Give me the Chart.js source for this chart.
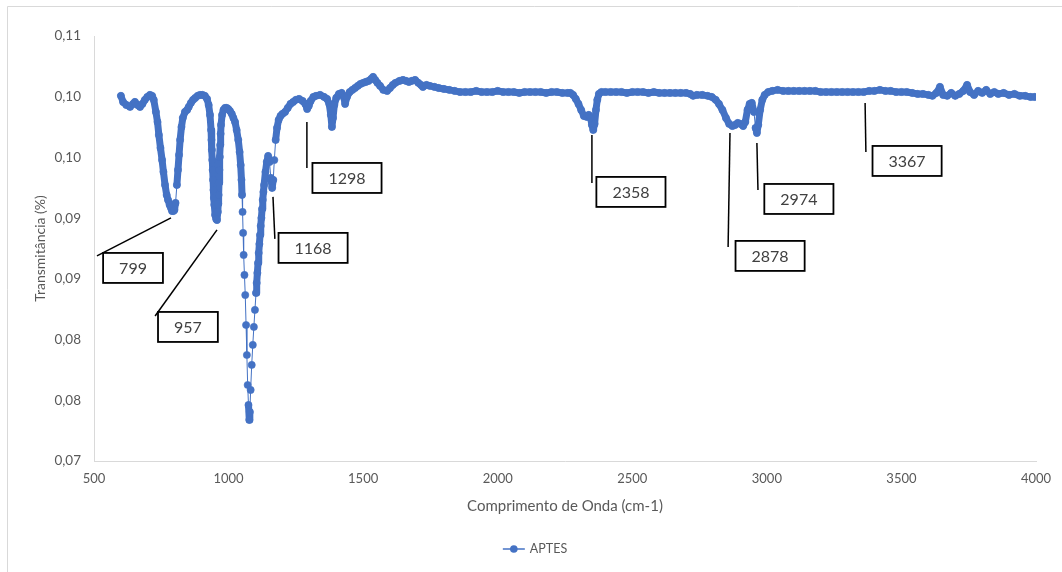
<!DOCTYPE html>
<html>
<head>
<meta charset="utf-8">
<script src="https://cdn.jsdelivr.net/npm/chart.js@4.4.1/dist/chart.umd.min.js"></script>
<style>
  body { margin: 0; background: #fff; }
  #wrap { position: relative; width: 1062px; height: 572px; }
</style>
</head>
<body>
<div id="wrap"><canvas id="chart" width="1062" height="572"></canvas></div>
<script>
// Wavenumber (cm-1)
const wavenumber = [
  600, 608, 620, 634, 645, 652, 662, 671, 680, 689, 698, 708, 716, 722, 730, 736, 741, 747, 753, 758,
  764, 770, 775, 781, 786, 790, 795, 799, 803, 808, 812, 816, 820, 825, 830, 838, 846, 852, 860, 868,
  876, 885, 894, 903, 912, 920, 926, 931, 935, 936.5, 938, 939.5, 941, 942.5, 944, 945.5, 947, 950, 954, 957, 960, 961.5, 963, 964.5, 966, 967.5, 969, 970.5,
  972, 976, 981, 987, 993, 999, 1005, 1012, 1018, 1024, 1030, 1036, 1041, 1045, 1048, 1050, 1052, 1054, 1056, 1059,
  1062, 1065, 1068, 1071, 1074, 1077, 1079, 1082, 1086, 1090, 1094, 1098, 1102, 1104.5, 1107, 1109.5, 1112, 1114.5, 1117, 1119.5, 1122, 1124.5, 1127, 1129.5, 1132, 1137,
  1142, 1147, 1152, 1157, 1162, 1166, 1170, 1175, 1180, 1186, 1193, 1200, 1210, 1220, 1230, 1240, 1250, 1262, 1275, 1285,
  1292, 1298, 1305, 1315, 1325, 1340, 1355, 1366, 1374, 1380, 1384, 1388, 1393, 1400, 1410, 1420, 1428, 1433, 1440, 1450,
  1460, 1470, 1480, 1490, 1500, 1510, 1520, 1530, 1537, 1545, 1553, 1563, 1575, 1589, 1600, 1610, 1620, 1635, 1648, 1660,
  1670, 1680, 1693, 1705, 1715, 1722, 1735, 1748, 1765, 1780, 1800, 1820, 1840, 1860, 1880, 1900, 1920, 1940, 1960, 1980,
  2000, 2020, 2040, 2060, 2080, 2100, 2120, 2140, 2160, 2180, 2200, 2220, 2240, 2260, 2270, 2280, 2290, 2300, 2310, 2320,
  2330, 2338, 2345, 2350, 2355, 2360, 2365, 2370, 2376, 2385, 2400, 2420, 2440, 2460, 2480, 2500, 2520, 2540, 2560, 2580,
  2600, 2620, 2640, 2660, 2680, 2700, 2715, 2726, 2740, 2760, 2780, 2795, 2810, 2822, 2835, 2848, 2860, 2872, 2882, 2892,
  2902, 2912, 2920, 2928, 2936, 2944, 2952, 2958, 2963, 2968, 2975, 2983, 2992, 3005, 3020, 3040, 3060, 3080, 3100, 3120,
  3140, 3160, 3180, 3200, 3220, 3240, 3260, 3280, 3300, 3320, 3340, 3360, 3380, 3400, 3420, 3440, 3460, 3480, 3500, 3520,
  3540, 3560, 3580, 3600, 3615, 3630, 3643, 3655, 3670, 3685, 3700, 3715, 3730, 3744, 3755, 3770, 3785, 3800, 3815, 3830,
  3845, 3860, 3880, 3900, 3920, 3940, 3960, 3980, 3995
];

// Transmittance values, same order
const aptes = [
  0.10007, 0.09957, 0.09932, 0.09916, 0.09941, 0.09957, 0.09932, 0.09916, 0.09941, 0.09974, 0.09998, 0.10015, 0.10007, 0.09974, 0.09875, 0.09792, 0.09685, 0.09578, 0.09479, 0.09381,
  0.09273, 0.09191, 0.0915, 0.09109, 0.09084, 0.09059, 0.09059, 0.09068, 0.09125, 0.09273, 0.09397, 0.09521, 0.09644, 0.09751, 0.09825, 0.09875, 0.09891, 0.09916, 0.09949, 0.09974,
  0.0999, 0.10007, 0.10015, 0.10015, 0.10007, 0.09982, 0.09932, 0.0985, 0.09726, 0.09644, 0.09562, 0.09479, 0.09397, 0.09315, 0.09232, 0.09166, 0.09109, 0.09026, 0.08993, 0.08985, 0.09051, 0.09117, 0.09191, 0.0929, 0.09397, 0.09504, 0.09603, 0.09694,
  0.09768, 0.0985, 0.09891, 0.09908, 0.09908, 0.09899, 0.09883, 0.09858, 0.09825, 0.09792, 0.09726, 0.09644, 0.09545, 0.09438, 0.09315, 0.09191, 0.09051, 0.08878, 0.08697, 0.08532,
  0.08367, 0.0812, 0.07873, 0.07626, 0.07461, 0.07338, 0.07404, 0.07585, 0.07791, 0.07956, 0.08104, 0.08244, 0.08384, 0.08466, 0.08549, 0.08631, 0.08713, 0.08787, 0.08862, 0.08936, 0.09002, 0.09076, 0.0915, 0.09216, 0.09273, 0.09381,
  0.09463, 0.09512, 0.09463, 0.09331, 0.09249, 0.09315, 0.09479, 0.09644, 0.09743, 0.09809, 0.09842, 0.09858, 0.09875, 0.09908, 0.09941, 0.09957, 0.09974, 0.09982, 0.09965, 0.09941,
  0.09899, 0.09924, 0.09965, 0.09998, 0.10007, 0.10015, 0.09998, 0.09982, 0.09941, 0.0985, 0.09751, 0.09825, 0.09932, 0.0999, 0.10023, 0.10031, 0.09998, 0.09941, 0.09998, 0.10039,
  0.10056, 0.10072, 0.10089, 0.10105, 0.10114, 0.10122, 0.1013, 0.10147, 0.10163, 0.10138, 0.10114, 0.10089, 0.10056, 0.10048, 0.10072, 0.10097, 0.10114, 0.1013, 0.10138, 0.1013,
  0.10122, 0.1013, 0.10138, 0.10114, 0.10097, 0.10081, 0.10097, 0.10089, 0.10081, 0.10072, 0.10064, 0.10056, 0.10048, 0.10039, 0.10039, 0.10039, 0.10048, 0.10039, 0.10039, 0.10039,
  0.10048, 0.10039, 0.10039, 0.10039, 0.10031, 0.10039, 0.10039, 0.10039, 0.10039, 0.10031, 0.10039, 0.10039, 0.10031, 0.10031, 0.10031, 0.10015, 0.09982, 0.09941, 0.09891, 0.09842,
  0.09834, 0.0985, 0.09825, 0.09768, 0.09726, 0.09776, 0.09891, 0.09974, 0.10023, 0.10039, 0.10039, 0.10039, 0.10039, 0.10039, 0.10031, 0.10039, 0.10039, 0.10039, 0.10031, 0.10039,
  0.10031, 0.10031, 0.10031, 0.10031, 0.10031, 0.10031, 0.10023, 0.10007, 0.10015, 0.10015, 0.10007, 0.09998, 0.09974, 0.09941, 0.09891, 0.09825, 0.09776, 0.09759, 0.09768, 0.09784,
  0.09776, 0.09759, 0.09792, 0.09891, 0.09941, 0.09949, 0.09875, 0.09743, 0.09702, 0.09768, 0.09891, 0.09974, 0.10015, 0.10039, 0.10048, 0.10056, 0.10048, 0.10048, 0.10048, 0.10048,
  0.10048, 0.10048, 0.10048, 0.10039, 0.10039, 0.10039, 0.10039, 0.10039, 0.10039, 0.10039, 0.10039, 0.10039, 0.10048, 0.10048, 0.10056, 0.10048, 0.10048, 0.10039, 0.10039, 0.10039,
  0.10031, 0.10023, 0.10023, 0.10015, 0.10007, 0.10031, 0.10081, 0.10015, 0.10007, 0.10031, 0.10007, 0.10023, 0.10048, 0.10097, 0.10039, 0.10015, 0.10048, 0.10031, 0.10056, 0.10023,
  0.10039, 0.10023, 0.10031, 0.10015, 0.10023, 0.10007, 0.10007, 0.09998, 0.09998
];

// Peak labels: text, point on the curve, end of leader line, label centre (data units)
const peakLabels = ['799', '957', '1168', '1298', '2358', '2878', '2974', '3367'];
const leaderFrom = [[786, 0.09002], [957, 0.08903], [1165, 0.09175], [1291, 0.09792], [2350, 0.09685], [2863, 0.09702], [2963, 0.09619], [3365, 0.09949]];
const leaderTo   = [[511, 0.08689], [727, 0.08194], [1172, 0.08829], [1291, 0.09413], [2350, 0.0929], [2856, 0.08763], [2967, 0.09232], [3368, 0.09545]];
const labelAt    = [[645, 0.0859], [849, 0.08104], [1314, 0.08755], [1440, 0.09331], [2495, 0.09216], [3012, 0.08689], [3119, 0.09158], [3521, 0.09471]];

const xTicksMin = 500, xTicksMax = 4000, xStep = 500;
const yTicksMin = 0.07, yTicksMax = 0.105, yStep = 0.005;

const FONT = 'Lato, "Open Sans", sans-serif';
const BLUE = '#4472C4';

const frame = {
  id: 'frame',
  beforeDraw(chart) {
    const c = chart.ctx;
    c.save();
    c.fillStyle = '#fff';
    c.fillRect(0, 0, chart.width, chart.height);
    c.strokeStyle = '#d9d9d9';
    c.lineWidth = 1;
    c.beginPath();
    c.moveTo(7.5, chart.height);
    c.lineTo(7.5, 6.5);
    c.lineTo(chart.width, 6.5);
    c.stroke();
    c.restore();
  },
  afterDraw(chart) {
    // legend like Excel: line with a marker, then the series name
    const c = chart.ctx;
    const ds = chart.data.datasets[0];
    c.save();
    c.font = '12.5px ' + FONT;
    const tw = c.measureText(ds.label).width;
    const total = 22 + 5 + tw;
    const x0 = chart.width / 2 - total / 2 + 4;
    const y0 = 549;
    c.strokeStyle = BLUE;
    c.lineWidth = 1.5;
    c.beginPath();
    c.moveTo(x0, y0);
    c.lineTo(x0 + 22, y0);
    c.stroke();
    c.fillStyle = BLUE;
    c.beginPath();
    c.arc(x0 + 11, y0, 3.8, 0, Math.PI * 2);
    c.fill();
    c.fillStyle = '#595959';
    c.textBaseline = 'middle';
    c.fillText(ds.label, x0 + 27, y0);
    c.restore();
  }
};

const callouts = {
  id: 'callouts',
  afterDatasetsDraw(chart) {
    const c = chart.ctx;
    const xs = chart.scales.x, ys = chart.scales.y;
    c.save();
    c.font = '16px ' + FONT;
    peakLabels.forEach((txt, i) => {
      const fx = xs.getPixelForValue(leaderFrom[i][0]), fy = ys.getPixelForValue(leaderFrom[i][1]);
      const tx = xs.getPixelForValue(leaderTo[i][0]), ty = ys.getPixelForValue(leaderTo[i][1]);
      const cx = xs.getPixelForValue(labelAt[i][0]), cy = ys.getPixelForValue(labelAt[i][1]);
      c.strokeStyle = '#000';
      c.lineWidth = 1.5;
      c.beginPath();
      c.moveTo(fx, fy);
      c.lineTo(tx, ty);
      c.stroke();
      const w = c.measureText(txt).width + 32, h = 30;
      c.fillStyle = '#fff';
      c.fillRect(cx - w / 2, cy - h / 2, w, h);
      c.lineWidth = 1.8;
      c.strokeRect(cx - w / 2, cy - h / 2, w, h);
      c.fillStyle = '#404040';
      c.textAlign = 'center';
      c.textBaseline = 'middle';
      c.fillText(txt, cx, cy + 1);
    });
    c.restore();
  }
};

const points = wavenumber.map((w, i) => ({ x: w, y: aptes[i] }));

// dense stretches of the trace merge into a thick band, sparse ones stay a thin line
const bandWidth = ctx => Math.hypot(ctx.p1.x - ctx.p0.x, ctx.p1.y - ctx.p0.y) < 16 ? 7 : 1;

new Chart(document.getElementById('chart'), {
  type: 'line',
  data: {
    datasets: [{
      label: 'APTES',
      data: points,
      borderColor: BLUE,
      backgroundColor: BLUE,
      borderWidth: 1,
      borderJoinStyle: 'round',
      borderCapStyle: 'round',
      segment: { borderWidth: bandWidth },
      pointRadius: 3.6,
      pointBorderWidth: 0.6,
      pointBorderColor: BLUE,
      pointBackgroundColor: BLUE,
      tension: 0
    }]
  },
  options: {
    responsive: false,
    animation: false,
    layout: { padding: { left: 32, right: 26, top: 36, bottom: 57 } },
    plugins: {
      legend: { display: false },
      tooltip: { enabled: false }
    },
    scales: {
      x: {
        type: 'linear',
        min: xTicksMin,
        max: xTicksMax,
        ticks: {
          stepSize: xStep,
          color: '#595959',
          font: { family: FONT, size: 13 },
          padding: 10,
          maxRotation: 0,
          callback: v => String(v)
        },
        grid: { display: false, drawTicks: false },
        border: { display: true, color: '#d9d9d9', width: 1 },
        title: {
          display: true,
          text: 'Comprimento de Onda (cm-1)',
          color: '#595959',
          font: { family: FONT, size: 15 },
          padding: { top: 6, bottom: 0 }
        },
        afterFit(scale) { scale.height = 54; }
      },
      y: {
        min: yTicksMin,
        max: yTicksMax,
        ticks: {
          stepSize: yStep,
          color: '#595959',
          font: { family: FONT, size: 13.5 },
          padding: 13,
          callback: v => (Math.round(v * 100 + 1e-6) / 100).toFixed(2).replace('.', ',')
        },
        grid: { display: false, drawTicks: false },
        border: { display: true, color: '#d9d9d9', width: 1 },
        title: {
          display: true,
          text: 'Transmitância (%)',
          color: '#595959',
          font: { family: FONT, size: 14 },
          padding: { top: 0, bottom: 8 }
        },
        afterFit(scale) { scale.width = 62; }
      }
    }
  },
  plugins: [frame, callouts]
});
</script>
</body>
</html>
